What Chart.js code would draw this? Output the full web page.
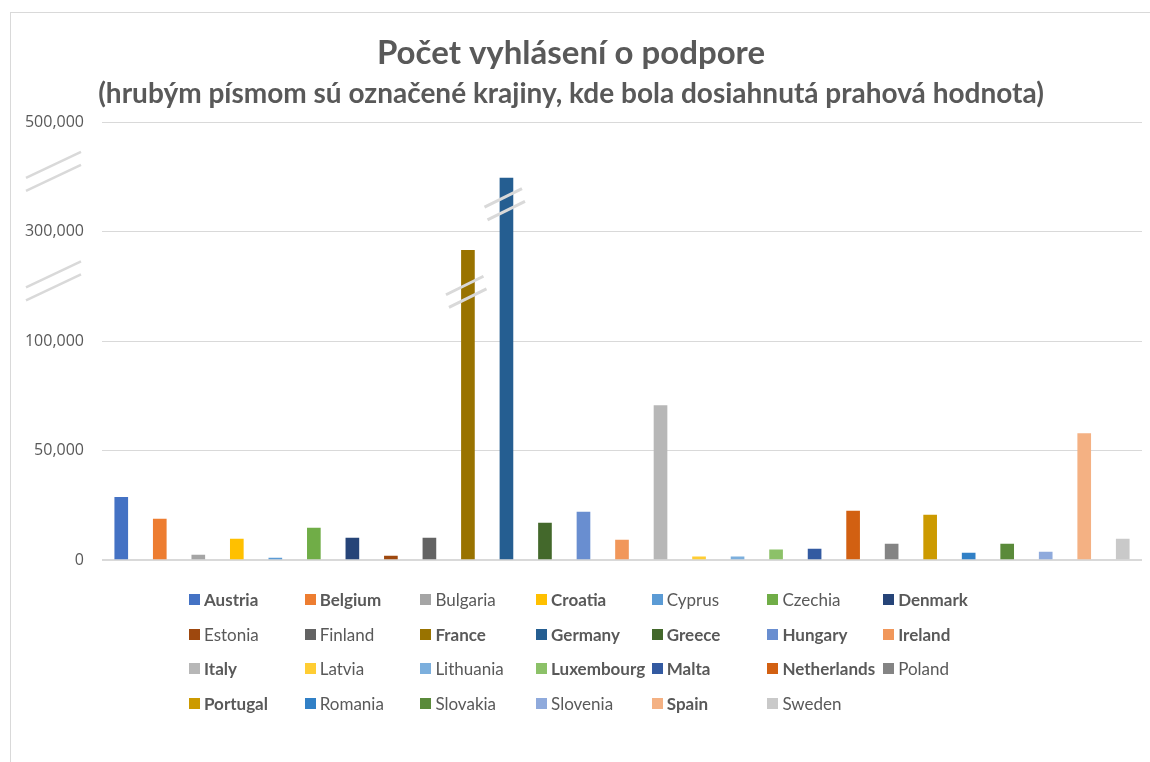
<!DOCTYPE html>
<html lang="sk">
<head>
<meta charset="UTF-8">
<title>Počet vyhlásení o podpore</title>
<script src="https://cdn.jsdelivr.net/npm/chart.js@4.4.0/dist/chart.umd.min.js"></script>
<style>
  html, body { margin: 0; padding: 0; background: #fff; overflow: hidden; }
  #wrap { position: relative; width: 1150px; height: 762px; overflow: hidden; }
  #frame { position: absolute; left: 10px; top: 12px; width: 1160px; height: 800px; border: 1px solid #d9d9d9; box-sizing: border-box; }
  #supportChart { position: absolute; left: 0; top: 0; }
  #legend {
    position: absolute; left: 189px; top: 582px;
    display: grid; grid-template-columns: repeat(7, 115.7px); grid-auto-rows: 34.7px;
    font-family: Lato, sans-serif; font-size: 17px; color: #595959;
  }
  .legend-item { display: flex; align-items: center; white-space: nowrap; }
  .legend-item.bold { font-weight: bold; }
  .legend-box { width: 11px; height: 11px; margin-right: 4px; flex: none; }
</style>
</head>
<body>
<div id="wrap">
  <div id="frame"></div>
  <canvas id="supportChart" width="1172" height="762"></canvas>
  <div id="legend"></div>
</div>
<script>
// Krajiny a počet vyhlásení
const countries = ["Austria", "Belgium", "Bulgaria", "Croatia", "Cyprus", "Czechia", "Denmark",
  "Estonia", "Finland", "France", "Germany", "Greece", "Hungary", "Ireland",
  "Italy", "Latvia", "Lithuania", "Luxembourg", "Malta", "Netherlands", "Poland",
  "Portugal", "Romania", "Slovakia", "Slovenia", "Spain", "Sweden"];
const requests = [28600, 18700, 2300, 9500, 900, 14600, 10000,
  1800, 10000, 266000, 398000, 16900, 21900, 9100,
  70500, 1400, 1400, 4600, 5000, 22300, 7300,
  20500, 3200, 7300, 3600, 57700, 9500];
// tučne = dosiahnutá prahová hodnota
const thresholdReached = [true, true, false, true, false, false, true,
  false, false, true, true, true, true, true,
  true, false, false, true, true, true, false,
  true, false, false, false, true, false];
const barColors = ["#4472C4", "#ED7D31", "#A5A5A5", "#FFC000", "#5B9BD5", "#70AD47", "#264478",
  "#9E480E", "#636363", "#997300", "#255E91", "#43682B", "#698ED0", "#F1975A",
  "#B7B7B7", "#FFCD33", "#7CAFDD", "#8CC168", "#335AA1", "#D26012", "#848484",
  "#CC9A00", "#3180C6", "#5A8A3A", "#8FAADC", "#F4B183", "#C9C9C9"];

// Hodnoty osi (os je prerušená)
const axisSteps = [0, 50000, 100000, 300000, 500000];
const axisBreaks = [210000, 410000];
const barBreaks = [{ country: "France", value: 190000 }, { country: "Germany", value: 350000 }];

// prepočet hodnoty na zlomenú os
function toAxis(value) {
  for (let i = 0; i < axisSteps.length - 1; i++) {
    if (value <= axisSteps[i + 1]) {
      return i + (value - axisSteps[i]) / (axisSteps[i + 1] - axisSteps[i]);
    }
  }
  return axisSteps.length - 1;
}

// dve šikmé čiary prerušenia
function drawPair(ctx, cx, cy, dx, dy, ox, oy) {
  [-0.5, 0.5].forEach(k => {
    const x = cx + k * ox, y = cy + k * oy;
    ctx.beginPath();
    ctx.moveTo(x - dx / 2, y + dy / 2);
    ctx.lineTo(x + dx / 2, y - dy / 2);
    ctx.stroke();
  });
}

const breakMarks = {
  id: "breakMarks",
  afterDatasetsDraw(chart) {
    const { ctx, chartArea, scales: { y } } = chart;
    const meta = chart.getDatasetMeta(0);
    ctx.save();
    ctx.strokeStyle = "#d9d9d9";

    ctx.lineWidth = 2.5;
    axisBreaks.forEach(v => {
      drawPair(ctx, chartArea.left - 48.5, y.getPixelForValue(toAxis(v)), 55, 26, 0, 13);
    });

    ctx.lineWidth = 3;
    barBreaks.forEach(b => {
      const bar = meta.data[countries.indexOf(b.country)];
      drawPair(ctx, bar.x - 1.7, y.getPixelForValue(toAxis(b.value)), 37.5, 18.5, 3, 12.7);
    });
    ctx.restore();
  }
};

const ctx = document.getElementById("supportChart").getContext("2d");

new Chart(ctx, {
  type: "bar",
  data: {
    labels: countries,
    datasets: [{
      label: "Počet vyhlásení",
      data: requests.map(toAxis),
      backgroundColor: barColors,
      barThickness: 13
    }]
  },
  options: {
    responsive: false,
    animation: false,
    layout: { padding: { top: 12, left: 0, right: 30, bottom: 202 } },
    plugins: {
      legend: { display: false },
      tooltip: { enabled: false },
      title: {
        display: true,
        text: "Počet vyhlásení o podpore",
        color: "#595959",
        font: { family: "Lato", size: 33, weight: "bold", lineHeight: 1.2 },
        padding: { top: 22, bottom: 0 }
      },
      subtitle: {
        display: true,
        text: "(hrubým písmom sú označené krajiny, kde bola dosiahnutá prahová hodnota)",
        color: "#595959",
        font: { family: "Lato", size: 28, weight: "bold", lineHeight: 1.2 },
        padding: { top: 4, bottom: 11 }
      }
    },
    scales: {
      x: { display: false },
      y: {
        min: 0,
        max: axisSteps.length - 1,
        afterFit: scale => { scale.width = 102; },
        ticks: {
          stepSize: 1,
          padding: 18,
          color: "#595959",
          font: { family: "Open Sans", size: 16 },
          callback: v => axisSteps[v] !== undefined ? axisSteps[v].toLocaleString("en-US") : ""
        },
        grid: { color: "#d9d9d9", lineWidth: c => c.index === 0 ? 2 : 1, drawTicks: false },
        border: { display: false }
      }
    }
  },
  plugins: [breakMarks]
});

// Legenda (tučné písmo podľa prahovej hodnoty)
const legend = document.getElementById("legend");
countries.forEach((name, i) => {
  const item = document.createElement("div");
  item.classList.add("legend-item");
  if (thresholdReached[i]) item.classList.add("bold");
  item.innerHTML = `<span class="legend-box" style="background:${barColors[i]}"></span>${name}`;
  legend.appendChild(item);
});
</script>
</body>
</html>
